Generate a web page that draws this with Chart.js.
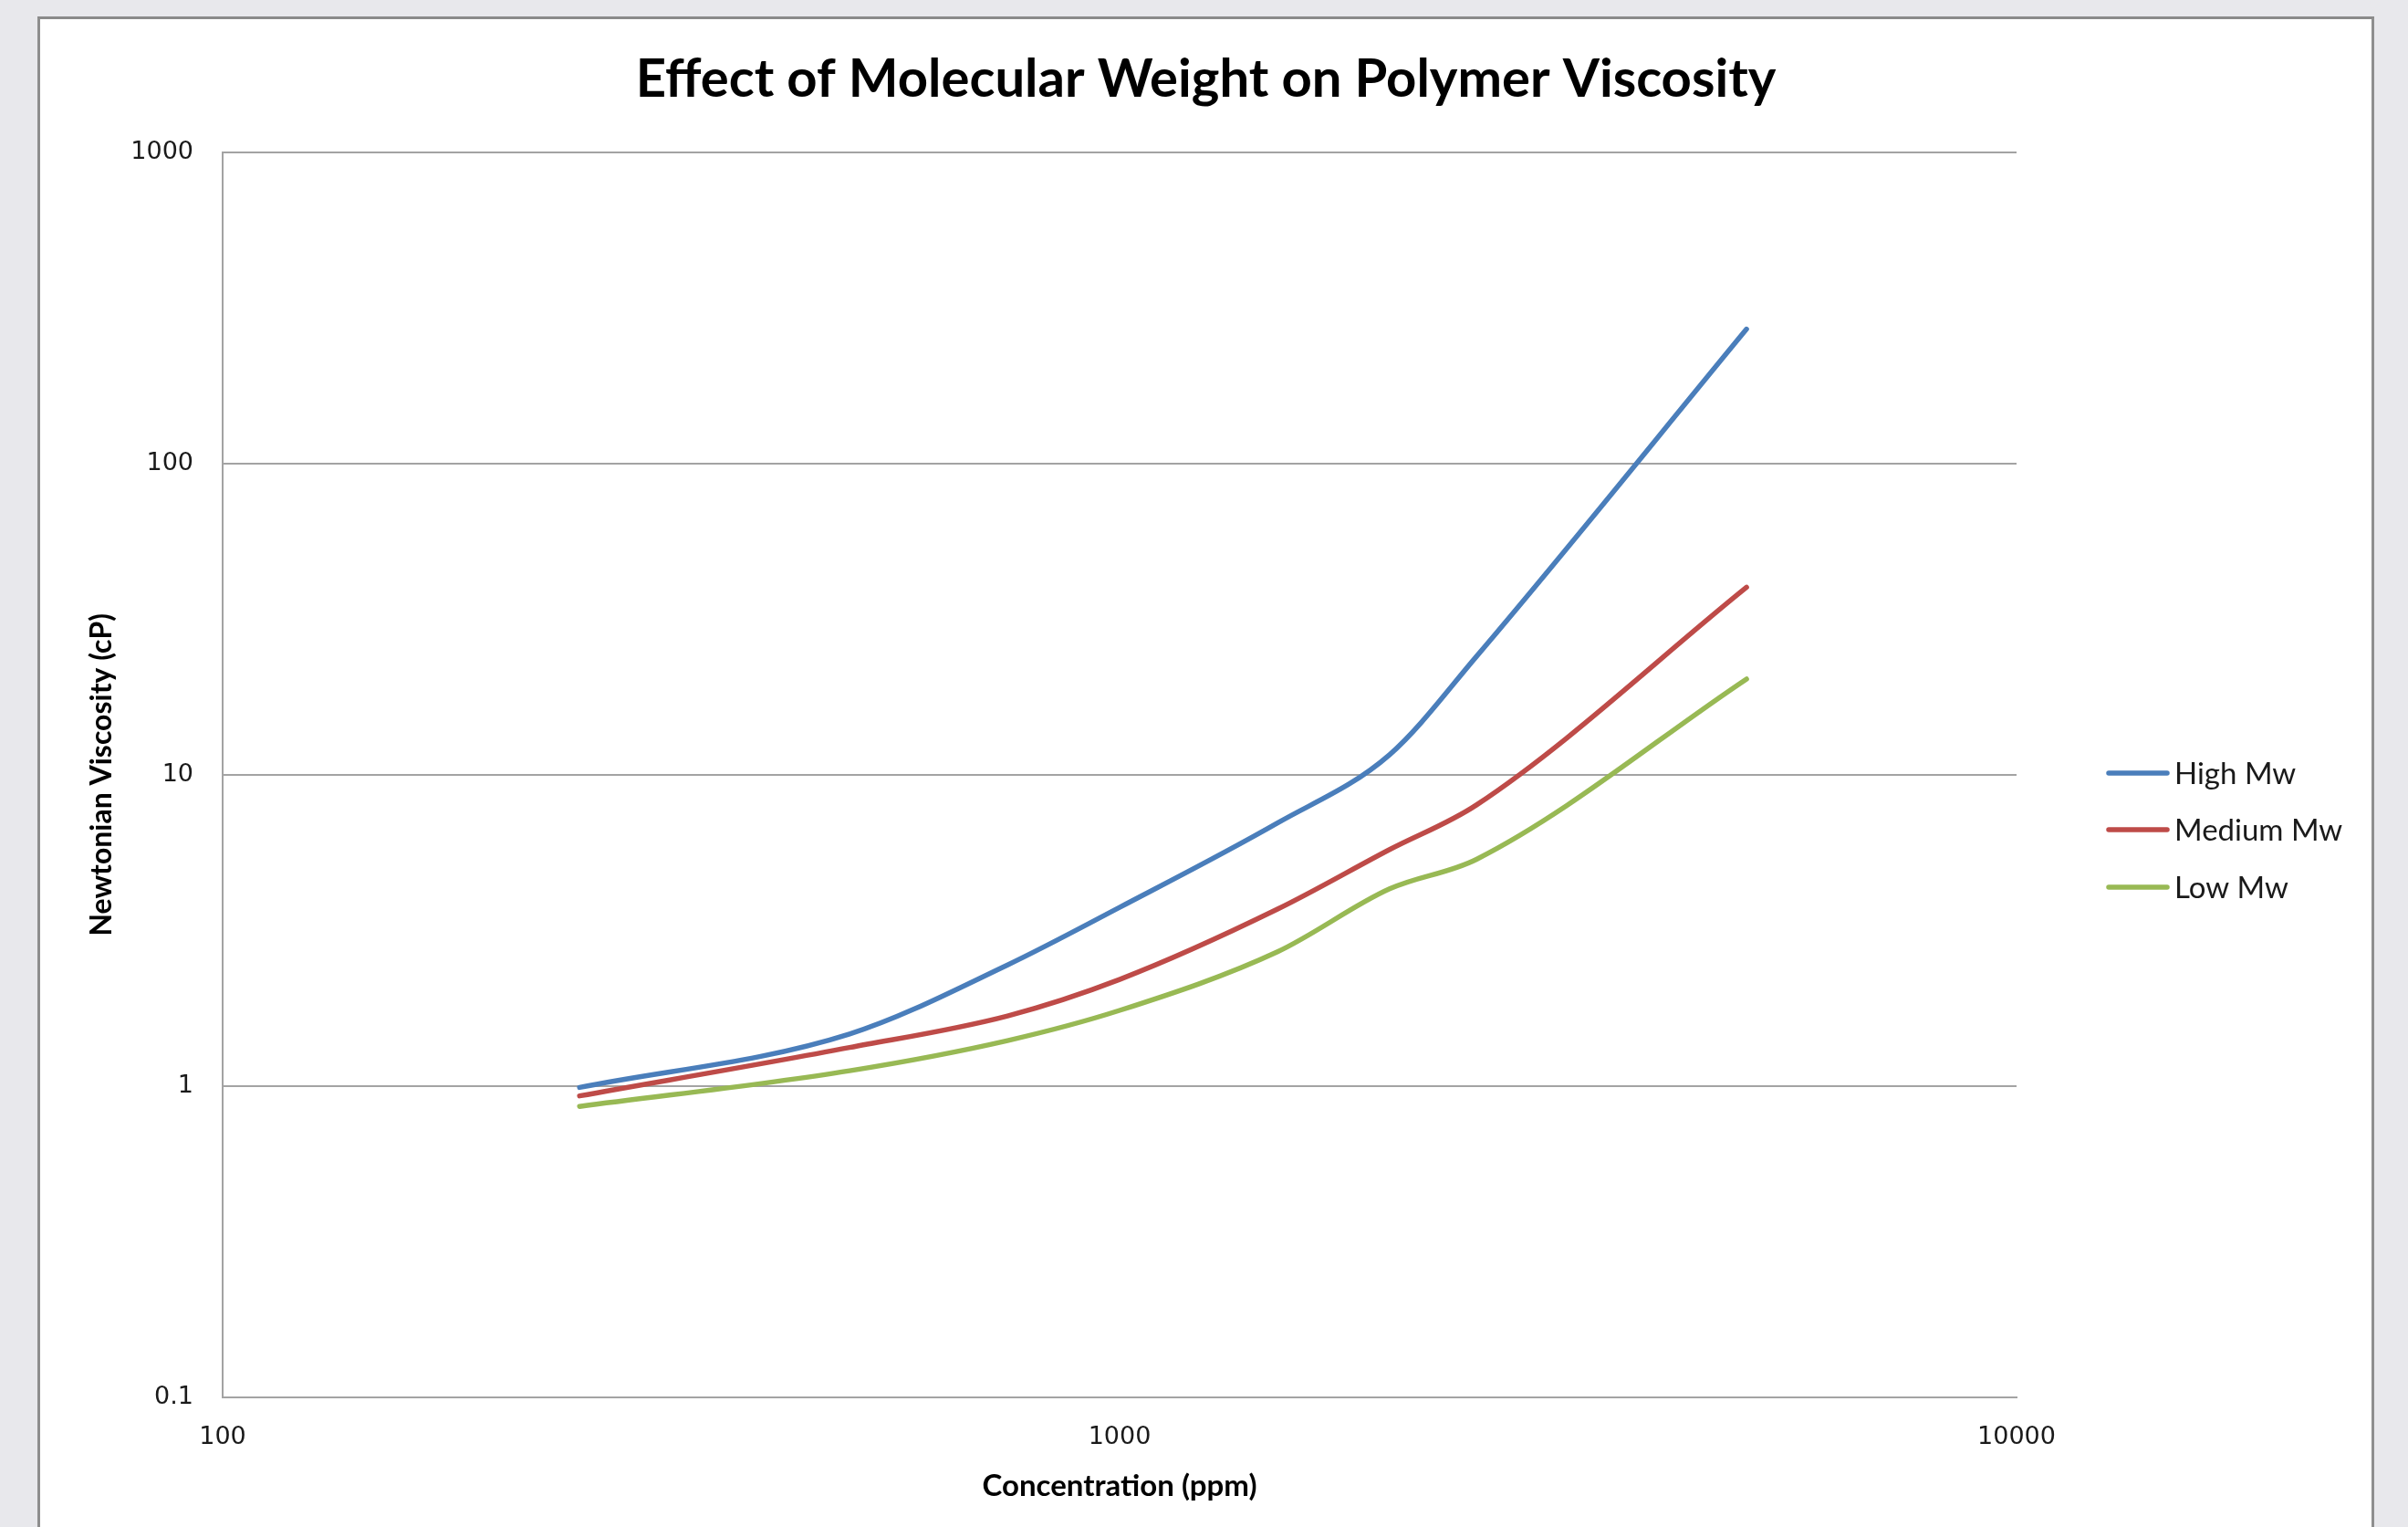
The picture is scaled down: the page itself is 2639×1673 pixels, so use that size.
<!DOCTYPE html>
<html>
<head>
<meta charset="utf-8">
<script src="https://cdn.jsdelivr.net/npm/chart.js@4.4.1/dist/chart.umd.min.js"></script>
<style>
  html, body { margin: 0; padding: 0; width: 2639px; height: 1673px; overflow: hidden; background: #e8e8ec; }
  #frame { position: absolute; left: 41px; top: 18px; width: 2555px; height: 1700px; background: #ffffff;
           border-left: 3px solid #8e8e8e; border-right: 3px solid #8e8e8e; border-top: 3px solid #8a8a8a; }
  #wrap { position: absolute; left: 0; top: 0; width: 2555px; height: 1652px; }
</style>
</head>
<body>
<div id="frame"><div id="wrap"><canvas id="c" width="2555" height="1652"></canvas></div></div>
<script>
// ---- data ----
const concentrations = [250, 500, 750, 1000, 1500, 2000, 2500, 5000];
const highMw   = [0.99, 1.47, 2.45, 3.75, 7.0, 11.6, 24, 270];
const mediumMw = [0.93, 1.33, 1.68, 2.2, 3.7, 5.75, 8.0, 40];
const lowMw    = [0.86, 1.12, 1.4, 1.75, 2.7, 4.3, 5.35, 20.3];
const seriesNames = ['High Mw', 'Medium Mw', 'Low Mw'];
const xTickValues = [100, 1000, 10000];
const xTickLabels = ['100', '1000', '10000'];
const yTickValues = [0.1, 1, 10, 100, 1000];
const yTickLabels = ['0.1', '1', '10', '100', '1000'];

const colors = ['#4a7ebb', '#be4b48', '#98b954'];
const seriesValues = [highMw, mediumMw, lowMw];

function toPoints(vals) { return concentrations.map((c, i) => ({ x: c, y: vals[i] })); }

const legendPlugin = {
  id: 'excelLegend',
  afterDraw(chart) {
    const ctx = chart.ctx;
    const lineX0 = 2267, lineX1 = 2331, textX = 2339;
    const rowY = [826, 888, 951];
    ctx.save();
    chart.data.datasets.forEach((ds, i) => {
      ctx.strokeStyle = ds.borderColor;
      ctx.lineWidth = 5.5;
      ctx.lineCap = 'round';
      ctx.beginPath();
      ctx.moveTo(lineX0, rowY[i]);
      ctx.lineTo(lineX1, rowY[i]);
      ctx.stroke();
      ctx.fillStyle = '#1a1a1a';
      ctx.font = '33px Lato';
      ctx.textBaseline = 'middle';
      ctx.textAlign = 'left';
      ctx.fillText(ds.label, textX, rowY[i] + 1);
    });
    ctx.restore();
  }
};

const gridGray = '#a3a3a3';

new Chart(document.getElementById('c'), {
  type: 'line',
  data: {
    datasets: seriesNames.map((name, i) => ({
      label: name,
      data: toPoints(seriesValues[i]),
      borderColor: colors[i],
      backgroundColor: colors[i],
      borderWidth: 5.5,
      borderCapStyle: 'round',
      borderJoinStyle: 'round',
      pointRadius: 0,
      cubicInterpolationMode: 'monotone',
      fill: false
    }))
  },
  options: {
    responsive: false,
    animation: false,
    layout: { padding: 0 },
    plugins: {
      legend: { display: false },
      tooltip: { enabled: false },
      title: {
        display: true,
        text: 'Effect of Molecular Weight on Polymer Viscosity',
        color: '#000000',
        font: { family: 'Lato', size: 58, weight: 'bold' },
        padding: { top: 31, bottom: 45 }
      }
    },
    scales: {
      x: {
        type: 'logarithmic',
        min: 100, max: 10000,
        afterFit(scale) { scale.height = 142; },
        afterBuildTicks(axis) { axis.ticks = xTickValues.map(v => ({ value: v })); },
        grid: { display: false, drawTicks: false },
        border: { display: true, color: gridGray, width: 2 },
        ticks: {
          padding: 28,
          color: '#1a1a1a',
          font: { family: 'DejaVu Sans', size: 27 },
          autoSkip: false, maxRotation: 0,
          callback(value, index) { return xTickLabels[index]; }
        },
        title: {
          display: true,
          text: 'Concentration (ppm)',
          color: '#000000',
          font: { family: 'Lato', size: 33, weight: 'bold' },
          padding: { top: 0, bottom: 25 }
        }
      },
      y: {
        type: 'logarithmic',
        min: 0.1, max: 1000,
        afterFit(scale) { scale.width = 200; },
        afterBuildTicks(axis) { axis.ticks = yTickValues.map(v => ({ value: v })); },
        grid: { display: true, drawTicks: false, color: gridGray, lineWidth: 2 },
        border: { display: true, color: gridGray, width: 2 },
        ticks: {
          padding: 32,
          color: '#1a1a1a',
          font: { family: 'DejaVu Sans', size: 27 },
          autoSkip: false,
          callback(value, index) { return yTickLabels[index]; }
        },
        title: {
          display: true,
          text: 'Newtonian Viscosity (cP)',
          color: '#000000',
          font: { family: 'Lato', size: 32, weight: 'bold' },
          padding: { top: 48, bottom: 0 }
        }
      },
      legendSpace: {
        type: 'linear',
        position: 'right',
        display: true,
        afterFit(scale) { scale.width = 389; },
        grid: { display: false, drawTicks: false },
        border: { display: false },
        ticks: { display: false },
        title: { display: false }
      }
    }
  },
  plugins: [legendPlugin]
});
</script>
</body>
</html>
